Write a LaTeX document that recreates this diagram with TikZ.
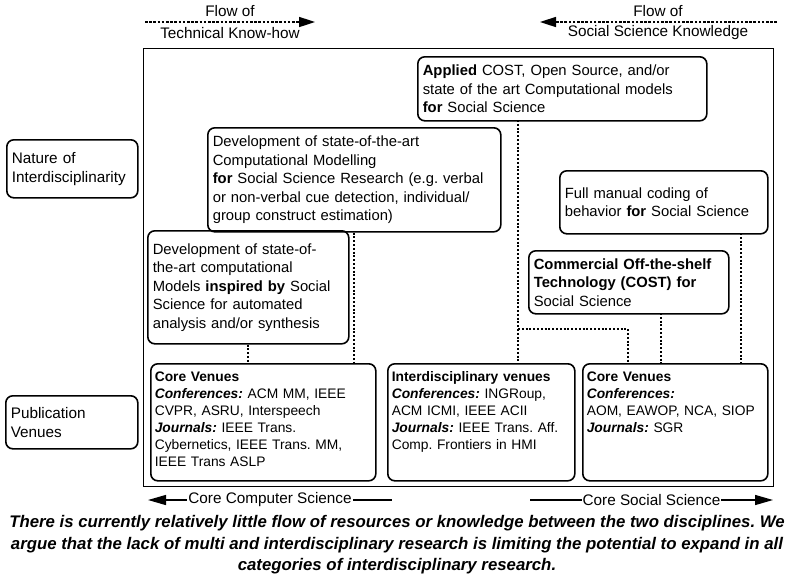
\documentclass[tikz,border=0pt]{standalone}
\usepackage{fontspec}
\setmainfont{Liberation Sans}
\usetikzlibrary{arrows.meta}

\begin{document}
\frenchspacing
\begin{tikzpicture}[x=1pt, y=-1pt,
	box/.style={draw, line width=1.6pt, rounded corners=7pt, anchor=north west, align=left, inner xsep=5pt, inner ysep=3pt, font=\fontsize{14.8}{18.5}\selectfont},
	venue/.style={box, inner xsep=4pt, text height=15pt, text depth=96pt, font=\fontsize{13.8}{16.9}\selectfont},
	link/.style={line width=2pt, dash pattern=on 2pt off 1.8pt},
	flow/.style={line width=1.6pt, dash pattern=on 2.6pt off 1.6pt, -{Triangle[length=16pt,width=10pt]}},
	core/.style={line width=1.4pt},
	label/.style={font=\fontsize{15.3}{18.5}\selectfont}]
	\useasboundingbox (0,0) rectangle (794,574);
	\node[draw, line width=1.2pt, anchor=north west, inner sep=0pt, minimum width=630pt, minimum height=438pt, name=frame] at (143,48) {};
	\node[label, name=flowtech] at (230,11) {Flow of};
	\node[label, name=technical] at (230,33) {Technical Know-how};
	\node[label, name=flowsocial] at (658,11) {Flow of};
	\node[label, name=social] at (658,33) {Social Science Knowledge};
	\coordinate (techfrom) at (145,22);
	\coordinate (techto) at (315,22);
	\coordinate (socialfrom) at (777,22);
	\coordinate (socialto) at (540,22);
	\draw[flow] (techfrom) -- (techto);
	\draw[flow] (socialfrom) -- (socialto);
	\node[box, font=\fontsize{15.3}{19}\selectfont, text width=121pt, minimum height=58pt, name=nature] at (6,139) {Nature of\\Interdisciplinarity};
	\node[box, font=\fontsize{15.3}{19}\selectfont, text width=122pt, minimum height=53pt, name=pubvenues] at (5,395) {Publication\\Venues};
	\node[box, text width=279pt, minimum height=64pt, name=applied] at (417,56) {\textbf{Applied} COST, Open Source, and/or\\state of the art Computational models\\\textbf{for} Social Science};
	\node[box, text width=283pt, minimum height=104pt, name=devss] at (207,127) {Development of state-of-the-art\\Computational Modelling\\\textbf{for} Social Science Research (e.g. verbal\\or non-verbal cue detection, individual/\\group construct estimation)};
	\node[box, text width=191pt, minimum height=113pt, name=inspired] at (147,230) {Development of state-of-\\the-art computational\\Models \textbf{inspired by} Social\\Science for automated\\analysis and/or synthesis};
	\node[box, text width=198pt, minimum height=63pt, name=manual] at (559,170) {Full manual coding of\\behavior \textbf{for} Social Science};
	\node[box, text width=190pt, minimum height=63pt, name=cost] at (528,250) {\textbf{Commercial Off-the-shelf}\\\textbf{Technology (COST) for}\\Social Science};
	\node[venue, text width=217pt, name=csvenues] at (150,363) {\textbf{Core Venues}\\\textbf{\textit{Conferences:}} ACM MM, IEEE\\CVPR, ASRU, Interspeech\\\textbf{\textit{Journals:}} IEEE Trans.\\Cybernetics, IEEE Trans. MM,\\IEEE Trans ASLP};
	\node[venue, text width=179pt, name=intervenues] at (387,363) {\textbf{Interdisciplinary venues}\\\textbf{\textit{Conferences:}} INGRoup,\\ACM ICMI, IEEE ACII\\\textbf{\textit{Journals:}} IEEE Trans. Aff.\\Comp. Frontiers in HMI};
	\node[venue, text width=177pt, name=ssvenues] at (582,363) {\textbf{Core Venues}\\\textbf{\textit{Conferences:}}\\AOM, EAWOP, NCA, SIOP\\\textbf{\textit{Journals:}} SGR};
	\coordinate (appliedfoot) at (518,120);
	\coordinate (branch) at (518,329);
	\coordinate (branchfoot) at (628,363);
	\coordinate (costfoot) at (661,313);
	\coordinate (manualfoot) at (741,233);
	\draw[link] (inspired.south) -- (inspired.south |- csvenues.north);
	\draw[link] (devss.south) -- (devss.south |- csvenues.north);
	\draw[link] (appliedfoot) -- (appliedfoot |- intervenues.north);
	\draw[link] (branch) -| (branchfoot);
	\draw[link] (costfoot) -- (costfoot |- ssvenues.north);
	\draw[link] (manualfoot) -- (manualfoot |- ssvenues.north);
	\coordinate (csleft) at (148,500);
	\coordinate (csright) at (392,500);
	\coordinate (ssleft) at (530,500);
	\coordinate (ssright) at (773,500);
	\draw[core, {Triangle[length=18pt,width=10pt]}-] (csleft) -- node[label, fill=white, inner xsep=1pt, inner ysep=0pt, name=cslabel] {Core Computer Science} (csright);
	\draw[core, -{Triangle[length=18pt,width=10pt]}] (ssleft) -- node[label, fill=white, inner xsep=1pt, inner ysep=0pt, name=sslabel] {Core Social Science} (ssright);
	\node[font=\fontsize{16.8}{21.5}\selectfont\bfseries\itshape, align=center, name=caption] at (397,545) {There is currently relatively little flow of resources or knowledge between the two disciplines. We\\argue that the lack of multi and interdisciplinary research is limiting the potential to expand in all\\categories of interdisciplinary research.};
\end{tikzpicture}
\end{document}
